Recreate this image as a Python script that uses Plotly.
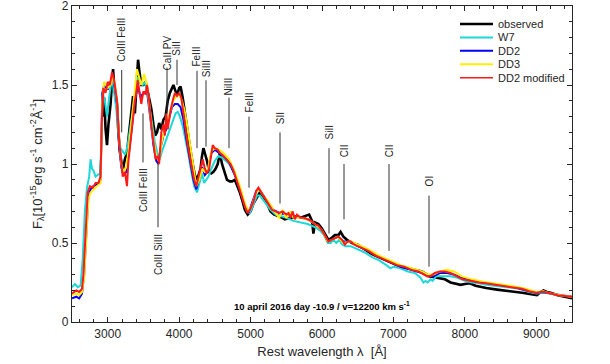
import plotly.graph_objects as go

# ---------------- data ----------------
obs_wl = [2930, 2950, 2970, 2990, 3010, 3040, 3060, 3075, 3090, 3110, 3130, 3150, 3170, 3195, 3215, 3240, 3270,
          3300, 3330, 3355, 3380, 3400, 3425, 3445, 3470, 3500, 3530, 3550, 3580, 3610, 3640, 3665, 3690, 3720,
          3750, 3780, 3810, 3840, 3870, 3900, 3920, 3950, 3975, 4000, 4020, 4050, 4080, 4110, 4150, 4190, 4220,
          4250, 4280, 4300, 4320, 4340, 4365, 4390, 4420, 4450, 4480, 4510, 4540, 4570, 4600, 4630, 4670, 4710,
          4740, 4780, 4820, 4850, 4890, 4920, 4960, 5000, 5040, 5090, 5130, 5170, 5210, 5250, 5280, 5330, 5400,
          5480, 5550, 5600, 5650, 5700, 5760, 5820, 5860, 5880, 5900, 5950, 6000, 6050, 6090, 6130, 6180, 6230,
          6260, 6300, 6350, 6420, 6500, 6600, 6700, 6800, 6900, 7000, 7100, 7200, 7300, 7400, 7500, 7560, 7650,
          7720, 7800, 7880, 7940, 8000, 8070, 8150, 8300, 8450, 8550, 8700, 8800, 8950, 9010, 9060, 9100, 9150,
          9200, 9300, 9400, 9500]
obs_fl = [1.30, 1.42, 1.22, 1.12, 1.25, 1.38, 1.52, 1.60, 1.50, 1.45, 1.38, 1.20, 1.08, 1.00, 0.97, 1.03, 1.07,
          1.20, 1.35, 1.43, 1.32, 1.50, 1.66, 1.58, 1.50, 1.50, 1.52, 1.48, 1.42, 1.35, 1.25, 1.18, 1.20, 1.26,
          1.22, 1.28, 1.30, 1.40, 1.45, 1.48, 1.50, 1.46, 1.44, 1.48, 1.49, 1.42, 1.32, 1.22, 1.11, 1.00, 0.93,
          0.90, 0.94, 0.97, 1.05, 1.10, 1.06, 1.02, 0.95, 0.94, 0.95, 0.97, 1.00, 1.07, 1.00, 0.95, 0.90, 0.89,
          0.89, 0.90, 0.86, 0.82, 0.76, 0.71, 0.68, 0.70, 0.75, 0.79, 0.82, 0.80, 0.77, 0.73, 0.70, 0.68, 0.67,
          0.65, 0.66, 0.66, 0.67, 0.66, 0.67, 0.68, 0.64, 0.56, 0.63, 0.62, 0.59, 0.55, 0.52, 0.53, 0.55, 0.55,
          0.57, 0.54, 0.52, 0.50, 0.49, 0.46, 0.43, 0.41, 0.39, 0.37, 0.35, 0.34, 0.33, 0.32, 0.29, 0.285, 0.28,
          0.27, 0.25, 0.24, 0.235, 0.24, 0.245, 0.23, 0.215, 0.205, 0.20, 0.19, 0.185, 0.175, 0.17, 0.19, 0.20,
          0.19, 0.185, 0.17, 0.16, 0.15]

w7_wl = [2500, 2540, 2580, 2620, 2650, 2680, 2710, 2740, 2760, 2780, 2800, 2830, 2860, 2890, 2910, 2925, 2960,
         2990, 3020, 3060, 3090, 3120, 3150, 3180, 3210, 3245, 3280, 3310, 3350, 3380, 3420, 3450, 3490, 3520,
         3560, 3600, 3630, 3660, 3700, 3730, 3760, 3790, 3830, 3870, 3910, 3950, 3980, 4010, 4050, 4090, 4130,
         4170, 4210, 4250, 4290, 4320, 4350, 4380, 4410, 4450, 4500, 4550, 4600, 4650, 4700, 4750, 4800, 4850,
         4900, 4950, 4990, 5040, 5090, 5130, 5180, 5230, 5280, 5350, 5420, 5500, 5600, 5700, 5800, 5900, 5970,
         6030, 6080, 6120, 6160, 6200, 6240, 6280, 6330, 6400, 6500, 6600, 6700, 6800, 6900, 6960, 7000, 7100,
         7200, 7300, 7380, 7420, 7450, 7480, 7520, 7550, 7600, 7700, 7800, 7900, 8000, 8100, 8200, 8300, 8400,
         8500, 8600, 8700, 8800, 8900, 9000, 9100, 9200, 9300, 9400, 9500]
w7_fl = [0.22, 0.24, 0.22, 0.23, 0.40, 0.70, 0.85, 0.92, 1.03, 0.97, 0.96, 0.92, 0.93, 0.94, 1.10, 1.45, 1.40,
         1.30, 1.42, 1.55, 1.45, 1.35, 1.18, 1.10, 1.08, 1.06, 1.12, 1.22, 1.35, 1.45, 1.55, 1.52, 1.50, 1.52,
         1.45, 1.32, 1.22, 1.14, 1.06, 1.03, 1.08, 1.12, 1.16, 1.22, 1.28, 1.32, 1.33, 1.30, 1.24, 1.16, 1.06,
         0.95, 0.86, 0.82, 0.88, 0.94, 0.88, 0.90, 0.92, 0.97, 1.02, 1.05, 1.04, 1.02, 1.00, 0.96, 0.91, 0.84,
         0.77, 0.70, 0.69, 0.74, 0.80, 0.80, 0.77, 0.74, 0.71, 0.68, 0.67, 0.66, 0.64, 0.63, 0.62, 0.60, 0.58,
         0.55, 0.50, 0.50, 0.52, 0.50, 0.52, 0.49, 0.48, 0.48, 0.46, 0.44, 0.41, 0.39, 0.36, 0.34, 0.35, 0.34,
         0.32, 0.31, 0.28, 0.25, 0.26, 0.25, 0.27, 0.26, 0.29, 0.29, 0.29, 0.28, 0.26, 0.25, 0.245, 0.235, 0.23,
         0.225, 0.22, 0.215, 0.205, 0.19, 0.18, 0.185, 0.18, 0.17, 0.165, 0.16]

dd2_wl = [2500, 2560, 2600, 2640, 2670, 2700, 2730, 2760, 2800, 2850, 2900, 2925, 2950, 3000, 3040, 3070, 3100,
          3130, 3160, 3190, 3220, 3260, 3300, 3340, 3380, 3420, 3460, 3500, 3550, 3600, 3640, 3680, 3710, 3740,
          3780, 3820, 3860, 3900, 3940, 3980, 4020, 4060, 4100, 4150, 4200, 4240, 4280, 4320, 4360, 4400, 4450,
          4500, 4560, 4620, 4700, 4780, 4850, 4920, 4970, 5020, 5080, 5120, 5180, 5250, 5320, 5400, 5500, 5600,
          5700, 5800, 5900, 6000, 6080, 6140, 6220, 6300, 6400, 6500, 6650, 6800, 6950, 7100, 7250, 7400, 7480,
          7560, 7650, 7750, 7850, 7950, 8100, 8250, 8400, 8550, 8700, 8850, 9000, 9100, 9200, 9350, 9500]
dd2_fl = [0.15, 0.16, 0.15, 0.18, 0.30, 0.60, 0.80, 0.84, 0.86, 0.87, 0.90, 1.45, 1.50, 1.47, 1.52, 1.56, 1.48,
          1.38, 1.12, 0.98, 0.93, 0.95, 1.08, 1.25, 1.40, 1.50, 1.42, 1.45, 1.46, 1.28, 1.12, 1.02, 1.00, 1.10,
          1.18, 1.22, 1.30, 1.36, 1.38, 1.38, 1.36, 1.28, 1.16, 1.02, 0.90, 0.84, 0.92, 0.98, 0.93, 0.95, 1.07,
          1.09, 1.07, 1.05, 1.01, 0.93, 0.84, 0.74, 0.69, 0.75, 0.83, 0.84, 0.80, 0.75, 0.71, 0.69, 0.68, 0.67,
          0.66, 0.65, 0.62, 0.58, 0.51, 0.52, 0.54, 0.51, 0.51, 0.48, 0.45, 0.41, 0.38, 0.35, 0.33, 0.31, 0.29,
          0.29, 0.31, 0.31, 0.30, 0.28, 0.26, 0.25, 0.24, 0.23, 0.22, 0.20, 0.185, 0.19, 0.18, 0.17, 0.16]

dd3_wl = [2500, 2560, 2600, 2640, 2670, 2700, 2730, 2760, 2800, 2850, 2900, 2925, 2950, 3000, 3040, 3070, 3100,
          3130, 3160, 3190, 3220, 3260, 3300, 3340, 3380, 3410, 3440, 3470, 3510, 3550, 3600, 3640, 3680, 3720,
          3760, 3800, 3840, 3880, 3920, 3960, 4000, 4040, 4080, 4120, 4160, 4200, 4240, 4280, 4320, 4360, 4400,
          4450, 4500, 4560, 4620, 4700, 4780, 4850, 4920, 4970, 5020, 5080, 5120, 5180, 5250, 5320, 5400, 5450,
          5500, 5560, 5600, 5700, 5800, 5900, 6000, 6080, 6140, 6220, 6300, 6400, 6500, 6650, 6800, 6950, 7100,
          7250, 7400, 7480, 7560, 7650, 7750, 7850, 7950, 8100, 8250, 8400, 8550, 8700, 8850, 9000, 9100, 9200,
          9350, 9500]
dd3_fl = [0.17, 0.18, 0.17, 0.19, 0.28, 0.55, 0.78, 0.82, 0.84, 0.86, 0.88, 1.40, 1.52, 1.48, 1.50, 1.55, 1.50,
          1.40, 1.15, 1.00, 0.95, 0.98, 1.12, 1.30, 1.45, 1.60, 1.55, 1.50, 1.57, 1.50, 1.30, 1.15, 1.05, 1.02,
          1.15, 1.22, 1.28, 1.34, 1.40, 1.43, 1.44, 1.40, 1.33, 1.22, 1.10, 0.98, 0.86, 0.90, 0.97, 0.95, 0.96,
          1.08, 1.10, 1.09, 1.07, 1.03, 0.95, 0.86, 0.75, 0.70, 0.74, 0.82, 0.84, 0.80, 0.76, 0.71, 0.66, 0.71,
          0.66, 0.70, 0.66, 0.66, 0.65, 0.62, 0.58, 0.51, 0.52, 0.54, 0.50, 0.51, 0.49, 0.46, 0.42, 0.39, 0.36,
          0.34, 0.32, 0.30, 0.30, 0.32, 0.33, 0.32, 0.29, 0.27, 0.255, 0.245, 0.235, 0.225, 0.21, 0.19, 0.195, 0.18,
          0.17, 0.16]

dd2m_wl = [2500, 2560, 2600, 2640, 2660, 2690, 2720, 2750, 2790, 2830, 2870, 2900, 2920, 2940, 2970, 3000, 3030,
           3060, 3080, 3100, 3130, 3160, 3190, 3210, 3240, 3270, 3290, 3320, 3350, 3380, 3400, 3420, 3440, 3470,
           3500, 3530, 3550, 3580, 3610, 3640, 3670, 3700, 3720, 3750, 3780, 3800, 3820, 3840, 3860, 3880, 3910,
           3940, 3970, 4000, 4030, 4060, 4090, 4120, 4150, 4180, 4210, 4240, 4270, 4300, 4330, 4360, 4390, 4420,
           4450, 4470, 4500, 4540, 4570, 4600, 4640, 4680, 4720, 4760, 4800, 4840, 4880, 4920, 4960, 5000, 5040,
           5080, 5110, 5150, 5200, 5250, 5300, 5350, 5400, 5450, 5500, 5530, 5560, 5590, 5620, 5650, 5700, 5750,
           5800, 5850, 5900, 5950, 6000, 6050, 6090, 6130, 6180, 6230, 6280, 6320, 6360, 6400, 6450, 6500, 6570,
           6650, 6750, 6850, 6950, 7050, 7150, 7250, 7350, 7420, 7470, 7520, 7580, 7650, 7720, 7800, 7880, 7970,
           8100, 8200, 8300, 8450, 8600, 8700, 8800, 8900, 9000, 9060, 9120, 9200, 9300, 9400, 9500]
dd2m_fl = [0.18, 0.20, 0.19, 0.21, 0.30, 0.55, 0.82, 0.86, 0.85, 0.88, 0.88, 0.92, 1.30, 1.48, 1.45, 1.52, 1.50,
           1.58, 1.55, 1.50, 1.40, 1.15, 0.98, 0.92, 0.95, 0.86, 1.02, 1.15, 1.30, 1.40, 1.45, 1.53, 1.47, 1.38,
           1.46, 1.44, 1.50, 1.40, 1.25, 1.12, 1.03, 1.05, 1.00, 1.20, 1.25, 1.18, 1.32, 1.22, 1.30, 1.34, 1.40,
           1.45, 1.43, 1.45, 1.42, 1.30, 1.22, 1.12, 1.04, 0.96, 0.90, 0.86, 0.92, 0.98, 1.03, 0.97, 0.94, 0.97,
           1.08, 1.12, 1.10, 1.09, 1.07, 1.06, 1.04, 1.02, 1.00, 0.96, 0.91, 0.85, 0.79, 0.73, 0.69, 0.72, 0.76,
           0.83, 0.85, 0.82, 0.79, 0.75, 0.71, 0.70, 0.69, 0.70, 0.68, 0.69, 0.66, 0.70, 0.65, 0.68, 0.66, 0.66,
           0.65, 0.64, 0.62, 0.61, 0.58, 0.54, 0.51, 0.52, 0.53, 0.54, 0.52, 0.49, 0.51, 0.51, 0.49, 0.48, 0.47,
           0.45, 0.42, 0.40, 0.38, 0.36, 0.35, 0.33, 0.32, 0.30, 0.29, 0.29, 0.31, 0.32, 0.32, 0.31, 0.29, 0.27,
           0.26, 0.25, 0.245, 0.235, 0.225, 0.22, 0.21, 0.195, 0.185, 0.19, 0.19, 0.18, 0.17, 0.165, 0.16]

# line identifications: wavelength, line top, line bottom, label, label centre
id_labels = ["CoIII FeIII", "CoIII FeIII", "CoIII SiIII", "CaII PV", "SiII", "FeIII", "SiIII", "NiIII",
             "FeIII", "SII", "SiII", "CII", "CII", "OI"]
id_wl = [3196, 3494, 3704, 3830, 3970, 4250, 4376, 4698, 4978, 5412, 6098, 6308, 6938, 7498]
id_top = [1.595, 1.32, 1.01, 1.61, 1.66, 1.59, 1.53, 1.42, 1.30, 1.20, 1.10, 1.00, 1.00, 0.80]
id_bot = [1.20, 1.01, 0.60, 1.32, 1.50, 1.10, 1.11, 1.10, 0.85, 0.75, 0.56, 0.65, 0.45, 0.35]
id_lab_y = [1.785, 0.835, 0.424, 1.70, 1.73, 1.68, 1.60, 1.49, 1.39, 1.29, 1.20, 1.08, 1.08, 0.89]

series_names = ["observed", "W7", "DD2", "DD3", "DD2 modified"]
series_colors = ["black", "#1ed8d8", "#0000ff", "#ffee00", "#ff1a1a"]
x_ticks = [3000, 4000, 5000, 6000, 7000, 8000, 9000]
y_ticks = [0, 0.5, 1, 1.5, 2]

# ---------------- figure ----------------
FONT = "Liberation Sans, Arial, Helvetica, sans-serif"
TXT = "#262626"

fig = go.Figure()
data = [(obs_wl, obs_fl, 2.6), (w7_wl, w7_fl, 2.0), (dd2_wl, dd2_fl, 2.0),
        (dd3_wl, dd3_fl, 2.0), (dd2m_wl, dd2m_fl, 2.0)]
for name, col, (wl, fl, w) in zip(series_names, series_colors, data):
    fig.add_trace(go.Scatter(x=wl, y=fl, mode="lines", name=name, showlegend=False,
                             line=dict(color=col, width=w)))

# compact legend (top right), drawn in paper coordinates
leg_widths = [2.6, 2.0, 2.0, 2.0, 1.5]
for i, (name, col, lw) in enumerate(zip(series_names, series_colors, leg_widths)):
    yp = 0.943 - i * 0.0425
    fig.add_shape(type="line", xref="paper", yref="paper", x0=0.776, x1=0.842, y0=yp, y1=yp,
                  line=dict(color=col, width=lw))
    fig.add_annotation(x=0.848, y=yp, xref="paper", yref="paper", text=name, showarrow=False,
                       xanchor="left", yanchor="middle", font=dict(family=FONT, size=11, color=TXT))

for lab, wl, top, bot, ly in zip(id_labels, id_wl, id_top, id_bot, id_lab_y):
    fig.add_shape(type="line", xref="x", yref="y", x0=wl, x1=wl, y0=bot, y1=top,
                  line=dict(color="#333333", width=1))
    fig.add_annotation(x=wl, y=ly, xref="x", yref="y", text=lab, textangle=-90, showarrow=False,
                       xanchor="center", yanchor="middle", font=dict(family=FONT, size=10, color=TXT))

fig.add_annotation(x=6000, y=0.10, xref="x", yref="y",
                   text="<b>10 april 2016 day -10.9 / v=12200 km s<sup>-1</sup></b>",
                   showarrow=False, xanchor="center", yanchor="middle",
                   font=dict(family=FONT, size=9.5, color="black"))

axis_common = dict(showline=True, linecolor="#262626", linewidth=1.2, mirror="allticks",
                   ticks="inside", ticklen=5, tickcolor="#262626", showgrid=False, zeroline=False,
                   ticklabeloverflow="allow",
                   tickfont=dict(family=FONT, size=12, color=TXT))
fig.update_xaxes(range=[2500, 9500], tickvals=x_ticks, ticktext=[str(v) for v in x_ticks],
                 minor=dict(ticks="inside", dtick=200, ticklen=3, tickcolor="#262626", showgrid=False),
                 title=dict(text="Rest wavelength λ  [Å]", font=dict(family=FONT, size=13, color=TXT),
                            standoff=7),
                 **axis_common)
fig.update_yaxes(range=[0, 2], tickvals=y_ticks, ticktext=["0", "0.5", "1", "1.5", "2"],
                 minor=dict(ticks="inside", dtick=0.1, ticklen=3, tickcolor="#262626", showgrid=False),
                 title=dict(text="F<sub>λ</sub>[10<sup>-15</sup>erg s<sup>-1</sup> cm<sup>-2</sup>Å<sup>-1</sup>]",
                            font=dict(family=FONT, size=13, color=TXT), standoff=6),
                 **axis_common)

fig.update_layout(width=610, height=364, margin=dict(l=72, r=38, t=6, b=42, autoexpand=False),
                  plot_bgcolor="white", paper_bgcolor="white", showlegend=False)

fig.write_html("out.html", config={"displayModeBar": False},
               post_script="document.body.style.margin='0px';")
